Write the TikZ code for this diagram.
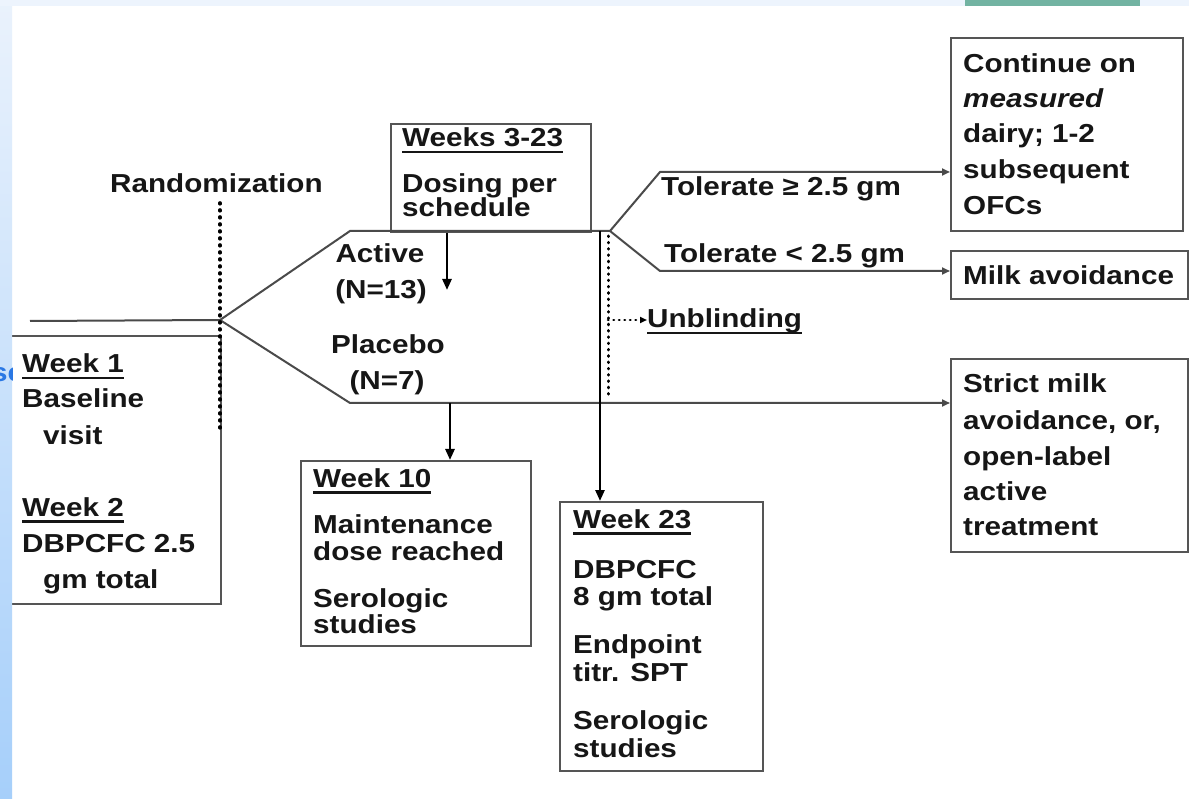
\documentclass[tikz,border=0pt]{standalone}
\usepackage{fontspec}
\setmainfont{Liberation Sans}[FakeStretch=1.14]
\usetikzlibrary{arrows.meta}
\definecolor{lngray}{HTML}{4A4A4A}
\definecolor{boxgray}{HTML}{555555}
\definecolor{txtblack}{HTML}{161616}
\definecolor{striptop}{HTML}{EAF2FC}
\definecolor{stripbot}{HTML}{A6CFFA}
\definecolor{topstrip}{HTML}{EDF4FD}
\definecolor{tealbar}{HTML}{72B3A2}
\definecolor{blueword}{HTML}{2A78E4}
\newcommand\ulin[1]{\leavevmode\setbox0\hbox{#1}\rlap{\rule[-6.5pt]{\wd0}{2.2pt}}\box0}
\begin{document}
\begin{tikzpicture}[x=1pt,y=-1pt,
  txt/.style={font=\fontsize{26}{30}\selectfont\bfseries, text=txtblack, inner sep=0pt, anchor=base west},
  txtc/.style={txt, anchor=base},
  boxnode/.style={draw=boxgray, line width=2pt, anchor=north west, inner sep=0pt, fill=white},
  ln/.style={draw=lngray, line width=2pt},
  rarrow/.style={ln, -{Triangle[length=8pt,width=7pt]}},
  darrow/.style={draw=black, line width=2.5pt, -{Triangle[length=11pt,width=9pt]}},
  dotline/.style={draw=black, line width=3.6pt, line cap=round, dash pattern=on 0.8pt off 6.2pt},
  dotthin/.style={draw=black, line width=3pt, line cap=round, dash pattern=on 0.6pt off 5.7pt}]
\useasboundingbox (0,0) rectangle (1189,799);
\fill[white] (0,0) rectangle (1189,799);

% boxes
\node[boxnode, minimum width=218pt, minimum height=268pt] (wk1) at (2,335) {};
\node[boxnode, minimum width=200pt, minimum height=108pt] (wks) at (390,123) {};
\node[boxnode, minimum width=230pt, minimum height=185pt] (w10) at (300,460) {};
\node[boxnode, minimum width=203pt, minimum height=269pt] (w23) at (559,501) {};
\node[boxnode, minimum width=232pt, minimum height=193pt] (cont) at (950,37) {};
\node[boxnode, minimum width=237pt, minimum height=48pt] (milk) at (950,250) {};
\node[boxnode, minimum width=237pt, minimum height=193pt] (strict) at (950,358) {};

% coordinates
\coordinate (start) at (30,321);
\coordinate (rand) at (220,320);
\coordinate (actK) at (350,231);
\coordinate (br2) at (610,231);
\coordinate (plK) at (350,403);
\coordinate (tolU) at (660,172);
\coordinate (tolL) at (660,271);
\coordinate (aEnd) at (447,290);
\coordinate (p10) at (450,403);
\coordinate (v23) at (600,231);
\coordinate (rT) at (220,203);
\coordinate (rB) at (220,428);
\coordinate (uT) at (608,236);
\coordinate (uB) at (608,398);
\coordinate (uM) at (608,320);

% connectors
\draw[ln] (start) -- (rand);
\draw[ln] (rand) -- (actK) -- (br2);
\draw[rarrow] (rand) -- (plK) -- (plK -| strict.west);
\draw[rarrow] (br2) -- (tolU) -- (tolU -| cont.west);
\draw[rarrow] (br2) -- (tolL) -- (tolL -| milk.west);
\draw[darrow] (wks.south -| aEnd) -- (aEnd);
\draw[darrow] (p10) -- (w10.north -| p10);
\draw[darrow] (v23) -- (w23.north -| v23);
\draw[dotline] (rT) -- (rB);
\draw[dotthin] (uT) -- (uB);

% texts
\node[txt] (randlbl) at (110,193) {Randomization};
\node[txt] (wkst) at (402,147) {\ulin{Weeks 3-23}};
\node[txt] (wks1) at (402,193) {Dosing per};
\node[txt] (wks2) at (402,217) {schedule};
\node[txtc] (act1) at (380,263) {Active};
\node[txtc] (act2) at (381,299) {(N=13)};
\node[txtc] (pl1) at (388,354) {Placebo};
\node[txtc] (pl2) at (387,390) {(N=7)};
\node[txt] (tol1) at (661,196) {Tolerate ≥ 2.5 gm};
\node[txt] (tol2) at (664,263) {Tolerate < 2.5 gm};
\node[txt] (unbl) at (647,328) {\ulin{Unblinding}};
\draw[dotthin, line width=2.6pt, dash pattern=on 0.5pt off 5pt, -{Triangle[length=7pt,width=6pt]}] (uM) -- (uM -| unbl.west);

\node[txt] (a1) at (22,373) {\ulin{Week 1}};
\node[txt] (a2) at (22,408) {Baseline};
\node[txt] (a3) at (43,445) {visit};
\node[txt] (a4) at (22,516) {\ulin{Week 2}};
\node[txt] (a5) at (22,552) {DBPCFC 2.5};
\node[txt] (a6) at (43,588) {gm total};

\node[txt] (b1) at (313,487) {\ulin{Week 10}};
\node[txt] (b2) at (313,533) {Maintenance};
\node[txt] (b3) at (313,560) {dose reached};
\node[txt] (b4) at (313,607) {Serologic};
\node[txt] (b5) at (313,633) {studies};

\node[txt] (c1) at (573,528) {\ulin{Week 23}};
\node[txt] (c2) at (573,578) {DBPCFC};
\node[txt] (c3) at (573,605) {8 gm total};
\node[txt] (c4) at (573,653) {Endpoint};
\node[txt] (c5) at (573,681) {titr. SPT};
\node[txt] (c6) at (573,729) {Serologic};
\node[txt] (c7) at (573,757) {studies};

\node[txt] (d1) at (963,73) {Continue on};
\node[txt] (d2) at (963,108) {\itshape measured};
\node[txt] (d3) at (963,143) {dairy; 1-2};
\node[txt] (d4) at (963,179) {subsequent};
\node[txt] (d5) at (963,215) {OFCs};

\node[txt] (e1) at (963,285) {Milk avoidance};

\node[txt] (f1) at (963,393) {Strict milk};
\node[txt] (f2) at (963,430) {avoidance, or,};
\node[txt] (f3) at (963,465) {open-label};
\node[txt] (f4) at (963,500) {active};
\node[txt] (f5) at (963,535) {treatment};

% page decorations
\shade[top color=striptop, bottom color=stripbot] (0,0) rectangle (12,799);
\fill[topstrip] (0,0) rectangle (1189,6);
\fill[tealbar] (965,0) rectangle (1140,6);
\begin{scope}
\clip (0,0) rectangle (12,799);
\node[txt, text=blueword] (sew) at (-9,382) {se};
\end{scope}
\end{tikzpicture}
\end{document}
